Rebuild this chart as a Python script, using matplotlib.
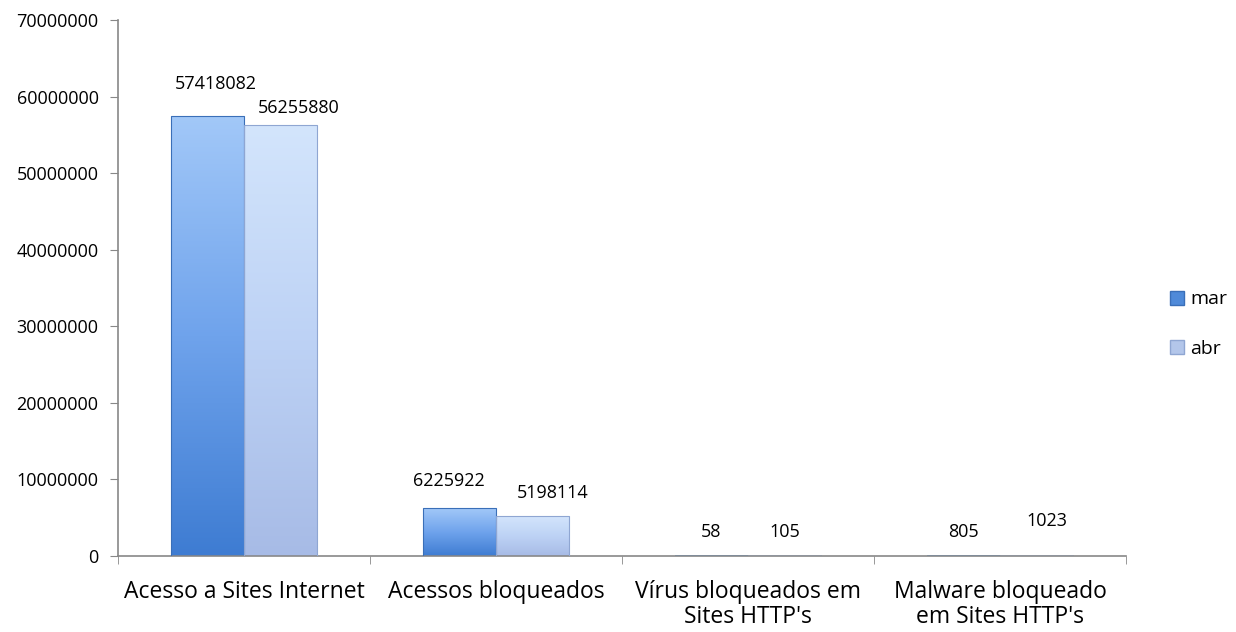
import numpy as np
import matplotlib.pyplot as plt
from matplotlib.colors import LinearSegmentedColormap
from matplotlib.patches import Patch

categories = ["Acesso a Sites Internet", "Acessos bloqueados",
              "Vírus bloqueados em\nSites HTTP's", "Malware bloqueado\nem Sites HTTP's"]
mar = [57418082, 6225922, 58, 805]
abr = [56255880, 5198114, 105, 1023]
series_names = ["mar", "abr"]
yticks = [0, 10000000, 20000000, 30000000, 40000000, 50000000, 60000000, 70000000]

# label nudges in pixels (dx, dy of label centre above the bar top), like excel placed them
nudge_mar = [(8, 32), (-11, 27), (0, 24), (0, 24)]
nudge_abr = [(18, 17), (20, 23), (0, 24), (10, 35)]

plt.rcParams['font.family'] = ['Open Sans', 'DejaVu Sans']

fig = plt.figure(figsize=(12.36, 6.32), dpi=100)
ax = fig.add_axes([118 / 1236, 1 - 556 / 632, (1126 - 118) / 1236, (556 - 20) / 632])

x = np.arange(len(categories))
w = 0.29
bars_mar = ax.bar(x - w / 2, mar, w, color="none", edgecolor="none")
bars_abr = ax.bar(x + w / 2, abr, w, color="none", edgecolor="none")

cmap_mar = LinearSegmentedColormap.from_list("m", ["#3e7cd2", "#6fa3ec", "#a2c8f8"])
cmap_abr = LinearSegmentedColormap.from_list("a", ["#a7bbe6", "#bdd2f5", "#d3e5fc"])
grad = np.linspace(0, 1, 256).reshape(-1, 1)

for bars, cmap, edge in [(bars_mar, cmap_mar, "#3a6fb8"), (bars_abr, cmap_abr, "#8fa6d2")]:
    for b in bars:
        x0, h, bw = b.get_x(), b.get_height(), b.get_width()
        if h <= 0:
            continue
        ax.imshow(grad, cmap=cmap, aspect="auto", origin="lower",
                  extent=[x0, x0 + bw, 0, h], zorder=2)
        ax.add_patch(plt.Rectangle((x0, 0), bw, h, fill=False, edgecolor=edge,
                                   linewidth=0.8, zorder=3))

for bars, vals, nudges in [(bars_mar, mar, nudge_mar), (bars_abr, abr, nudge_abr)]:
    for b, v, (dx, dy) in zip(bars, vals, nudges):
        ax.annotate(str(v), (b.get_x() + b.get_width() / 2, b.get_height()),
                    xytext=(dx, dy), textcoords="offset pixels", ha="center",
                    va="center", fontsize=13, color="#000000")

ax.set_xlim(-0.5, len(categories) - 0.5)
ax.set_ylim(0, 70000000)
ax.set_yticks(yticks)
ax.set_yticklabels([str(t) for t in yticks], fontsize=13)
ax.set_xticks(x)
ax.set_xticklabels(categories, fontsize=16.5, linespacing=1.1)
ax.set_xticks(np.arange(len(categories) + 1) - 0.5, minor=True)
ax.tick_params(axis="x", which="major", length=0, pad=17)
ax.tick_params(axis="x", which="minor", length=6, color="#888888", direction="out")
ax.tick_params(axis="y", length=6, color="#888888", direction="out", pad=8)

for s in ["top", "right"]:
    ax.spines[s].set_visible(False)
for s in ["left", "bottom"]:
    ax.spines[s].set_color("#888888")
    ax.spines[s].set_linewidth(1.2)

handles = [Patch(facecolor="#4f8ad9", edgecolor="#3a6fb8"),
           Patch(facecolor="#b3c6ea", edgecolor="#8fa6d2")]
fig.legend(handles, series_names, loc="center left", bbox_to_anchor=(1160 / 1236, 1 - 324 / 632),
           frameon=False, fontsize=14, labelspacing=1.6, handlelength=0.75,
           handleheight=0.75, handletextpad=0.3, borderpad=0)

fig.savefig("out.png", dpi=100)
